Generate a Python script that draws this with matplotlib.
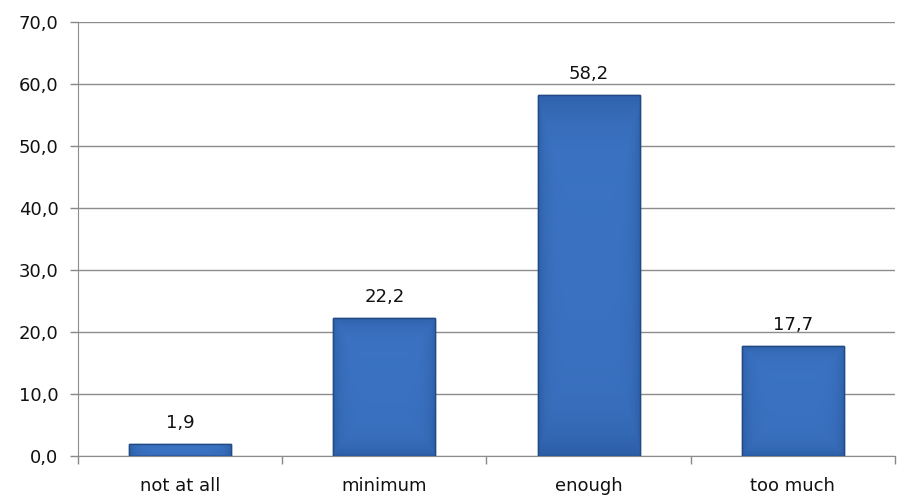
import matplotlib.pyplot as plt
import numpy as np
from matplotlib.colors import LinearSegmentedColormap

categories = ["not at all", "minimum", "enough", "too much"]
values = [1.9, 22.2, 58.2, 17.7]

fig = plt.figure(figsize=(9.01, 4.98), dpi=100)
ax = fig.add_axes([0.0866, 0.0843, 0.9067, 0.8715])

x = np.arange(len(categories))
bars = ax.bar(x, values, width=0.5, color="#3A70BE", edgecolor="#234A85",
              linewidth=1.0, zorder=3)

# soft bevel look: darker towards the edges, a bit lighter at the top
cmap = LinearSegmentedColormap.from_list("bv", ["#3C74C4", "#2C5EA6"])
gx = np.linspace(-1, 1, 200)
gy = np.linspace(-1, 1, 200)
GX, GY = np.meshgrid(gx, gy)
grad = np.clip(np.maximum(np.abs(GX), np.abs(GY)) ** 6, 0, 1) * 0.8 + (GY + 1) * 0.1
for b in bars:
    x0, y0 = b.get_x(), b.get_y()
    w, h = b.get_width(), b.get_height()
    im = ax.imshow(grad, cmap=cmap, extent=[x0, x0 + w, y0, y0 + h],
                   aspect="auto", zorder=3.5, vmin=0, vmax=1)
    im.set_clip_path(b)
    ax.bar(b.get_x() + w / 2, h, width=w, fill=False, edgecolor="#234A85",
           linewidth=1.0, zorder=4)

for xi, v in zip(x, values):
    ax.text(xi, v + 2.0, f"{v:.1f}".replace(".", ","), ha="center", va="bottom",
            fontsize=13, color="#111111")

ax.set_xlim(-0.5, 3.5)
ax.set_ylim(0, 70)
ax.set_yticks(np.arange(0, 71, 10))
ax.set_yticklabels([f"{t:.1f}".replace(".", ",") for t in np.arange(0, 71, 10)],
                   fontsize=13, color="#111111")
ax.set_xticks(x)
ax.set_xticklabels(categories, fontsize=13, color="#111111")
ax.tick_params(axis="x", length=0, pad=15)
ax.set_xticks(np.arange(-0.5, 4.0, 1.0), minor=True)
ax.tick_params(axis="x", which="minor", length=6, color="#888888", width=1)
ax.tick_params(axis="y", length=6, color="#888888", width=1, pad=8)

ax.grid(axis="y", color="#8C8C8C", linewidth=1.0, zorder=0)
ax.set_axisbelow(True)
for s in ["top", "right"]:
    ax.spines[s].set_visible(False)
ax.spines["left"].set_color("#8C8C8C")
ax.spines["bottom"].set_color("#8C8C8C")

fig.savefig("out.png", dpi=100)
